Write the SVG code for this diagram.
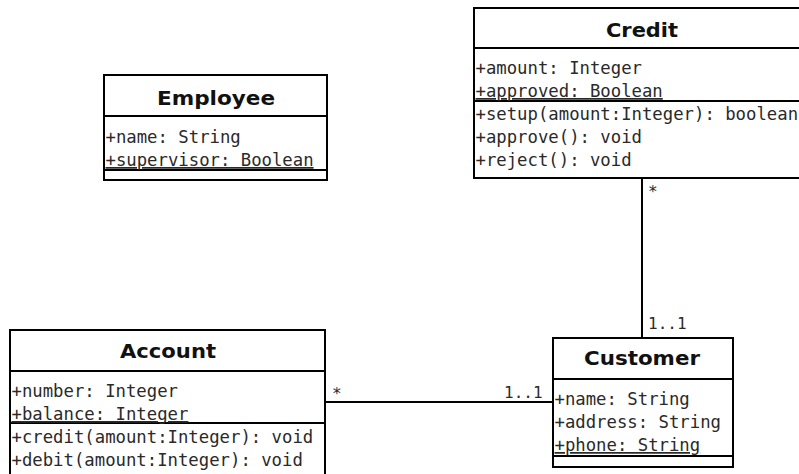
<svg xmlns="http://www.w3.org/2000/svg" width="799" height="474" viewBox="0 0 799 474">
  <style>
    .box { fill: #ffffff; stroke: #000000; stroke-width: 2; }
    .sep { stroke: #000000; stroke-width: 2; }
    .edge { stroke: #000000; stroke-width: 2; fill: none; }
    .title { font-family: "DejaVu Sans", sans-serif; font-weight: bold; font-size: 19.5px; fill: #111111; text-anchor: middle; }
    .member { font-family: "DejaVu Sans Mono", monospace; font-size: 17.3px; fill: #2a2a2a; }
    .static { text-decoration: underline; }
    .mult { font-family: "DejaVu Sans Mono", monospace; font-size: 16px; fill: #2a2a2a; }
  </style>

  <rect width="799" height="474" fill="#ffffff"/>

  <!-- associations -->
  <g id="connectors">
    <line class="edge" x1="642" y1="178" x2="642" y2="338"/>
    <text class="mult" x="648" y="197">*</text>
    <text class="mult" x="648" y="329">1..1</text>

    <line class="edge" x1="325" y1="402" x2="553" y2="402"/>
    <text class="mult" x="332" y="399">*</text>
    <text class="mult" x="504" y="398">1..1</text>
  </g>

  <!-- Employee class -->
  <g id="employee">
    <rect class="box" x="104" y="75" width="223" height="105"/>
    <line class="sep" x1="104" y1="116" x2="327" y2="116"/>
    <line class="sep" x1="104" y1="170" x2="327" y2="170"/>
    <text class="title" x="216" y="105" textLength="118" lengthAdjust="spacingAndGlyphs">Employee</text>
    <text class="member" x="105.5" y="143">+name: String</text>
    <text class="member static" x="105.5" y="166">+supervisor: Boolean</text>
  </g>

  <!-- Credit class -->
  <g id="credit">
    <rect class="box" x="474" y="8" width="336" height="170"/>
    <line class="sep" x1="474" y1="48" x2="810" y2="48"/>
    <line class="sep" x1="474" y1="101" x2="810" y2="101"/>
    <text class="title" x="642" y="37" textLength="72" lengthAdjust="spacingAndGlyphs">Credit</text>
    <text class="member" x="475.5" y="74">+amount: Integer</text>
    <text class="member static" x="475.5" y="97">+approved: Boolean</text>
    <text class="member" x="475.5" y="120">+setup(amount:Integer): boolean</text>
    <text class="member" x="475.5" y="143">+approve(): void</text>
    <text class="member" x="475.5" y="166">+reject(): void</text>
  </g>

  <!-- Account class -->
  <g id="account">
    <rect class="box" x="10" y="330" width="315" height="160"/>
    <line class="sep" x1="10" y1="371" x2="325" y2="371"/>
    <line class="sep" x1="10" y1="423" x2="325" y2="423"/>
    <text class="title" x="168" y="358" textLength="96" lengthAdjust="spacingAndGlyphs">Account</text>
    <text class="member" x="11.5" y="397">+number: Integer</text>
    <text class="member static" x="11.5" y="420">+balance: Integer</text>
    <text class="member" x="11.5" y="443">+credit(amount:Integer): void</text>
    <text class="member" x="11.5" y="466">+debit(amount:Integer): void</text>
  </g>

  <!-- Customer class -->
  <g id="customer">
    <rect class="box" x="553" y="338" width="180" height="129"/>
    <line class="sep" x1="553" y1="379" x2="733" y2="379"/>
    <line class="sep" x1="553" y1="456" x2="733" y2="456"/>
    <text class="title" x="642" y="365" textLength="116" lengthAdjust="spacingAndGlyphs">Customer</text>
    <text class="member" x="554.5" y="405">+name: String</text>
    <text class="member" x="554.5" y="428">+address: String</text>
    <text class="member static" x="554.5" y="451">+phone: String</text>
  </g>
</svg>
